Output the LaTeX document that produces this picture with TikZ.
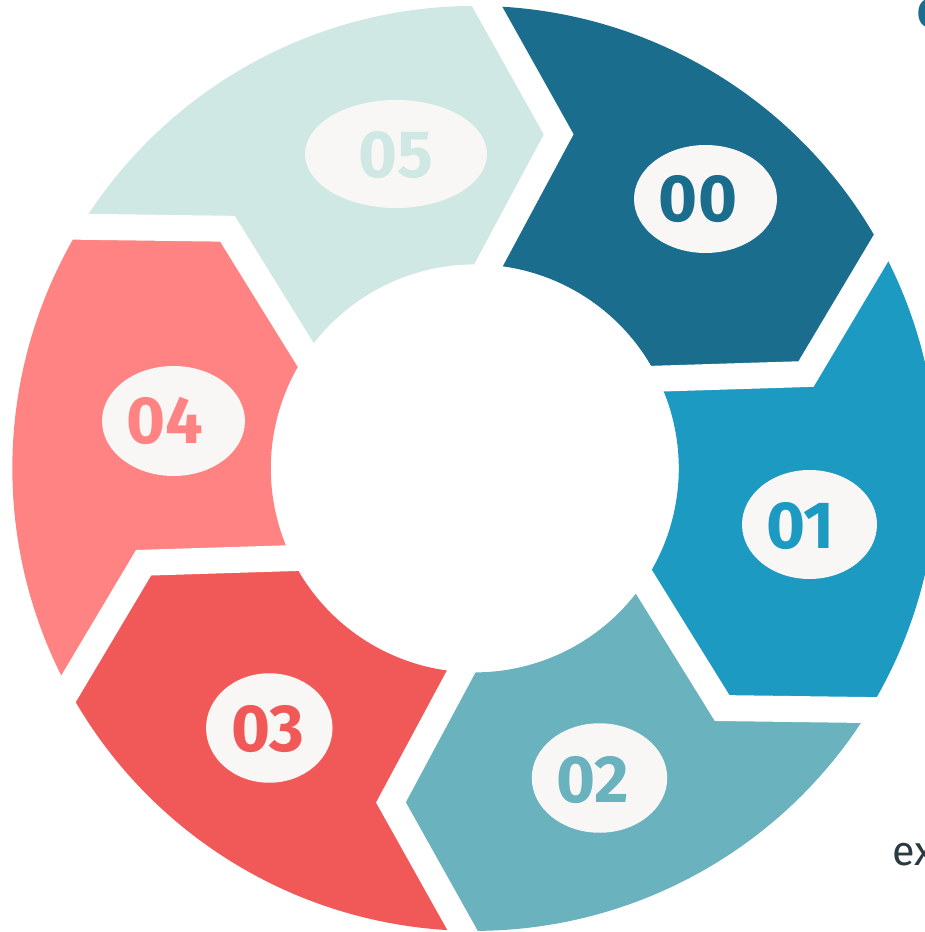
\documentclass[tikz,border=0pt]{standalone}
\usepackage{fontspec}
\setmainfont{Fira Sans}
\usetikzlibrary{shapes.geometric,calc}

\definecolor{c00}{HTML}{1B6D8E}
\definecolor{c01}{HTML}{1C9AC1}
\definecolor{c02}{HTML}{6BB2BF}
\definecolor{c03}{HTML}{F15959}
\definecolor{c04}{HTML}{FF8383}
\definecolor{c05}{HTML}{CFE8E3}
\definecolor{bubblefill}{HTML}{F9F7F5}
\definecolor{slate}{HTML}{2B3A42}

\tikzset{
  bubble/.style={ellipse, fill=bubblefill, inner sep=0pt},
  num/.style={font=\bfseries\fontsize{38}{40}\selectfont, inner sep=0pt},
  gapline/.style={draw=white, line width=0.52cm, line join=miter},
}

\begin{document}
\begin{tikzpicture}[x=0.02cm,y=0.02cm]
            \useasboundingbox (-474.8,-463.6) rectangle (450.2,468.4);

            % Segment 00
            \fill[c00] (88.5:462.5) arc[start angle=88.5, end angle=28.5, radius=462.5]
              -- (15.9:344.4) -- (26.1:204) arc[start angle=26.1, end angle=86.1, radius=204]
              -- (75.9:344.4) -- cycle;

            % Segment 01
            \fill[c01] (28.5:462.5) arc[start angle=28.5, end angle=-31.5, radius=462.5]
              -- (-44.1:344.4) -- (-33.9:204) arc[start angle=-33.9, end angle=26.1, radius=204]
              -- (15.9:344.4) -- cycle;

            % Segment 02
            \fill[c02] (-31.5:462.5) arc[start angle=-31.5, end angle=-91.5, radius=462.5]
              -- (-104.1:344.4) -- (-93.9:204) arc[start angle=-93.9, end angle=-33.9, radius=204]
              -- (-44.1:344.4) -- cycle;

            % Segment 03
            \fill[c03] (-91.5:462.5) arc[start angle=-91.5, end angle=-151.5, radius=462.5]
              -- (-164.1:344.4) -- (-153.9:204) arc[start angle=-153.9, end angle=-93.9, radius=204]
              -- (-104.1:344.4) -- cycle;

            % Segment 04
            \fill[c04] (-151.5:462.5) arc[start angle=-151.5, end angle=-211.5, radius=462.5]
              -- (-224.1:344.4) -- (-213.9:204) arc[start angle=-213.9, end angle=-153.9, radius=204]
              -- (-164.1:344.4) -- cycle;

            % Segment 05
            \fill[c05] (148.5:462.5) arc[start angle=148.5, end angle=88.5, radius=462.5]
              -- (75.9:344.4) -- (86.1:204) arc[start angle=86.1, end angle=146.1, radius=204]
              -- (135.9:344.4) -- cycle;

            % White gaps between the segments
            \draw[gapline] ($(75.9:344.4)!1.3!(88.5:462.5)$) -- (75.9:344.4) -- ($(75.9:344.4)!1.3!(86.1:204)$);
            \draw[gapline] ($(15.9:344.4)!1.3!(28.5:462.5)$) -- (15.9:344.4) -- ($(15.9:344.4)!1.3!(26.1:204)$);
            \draw[gapline] ($(-44.1:344.4)!1.3!(-31.5:462.5)$) -- (-44.1:344.4) -- ($(-44.1:344.4)!1.3!(-33.9:204)$);
            \draw[gapline] ($(-104.1:344.4)!1.3!(-91.5:462.5)$) -- (-104.1:344.4) -- ($(-104.1:344.4)!1.3!(-93.9:204)$);
            \draw[gapline] ($(-164.1:344.4)!1.3!(-151.5:462.5)$) -- (-164.1:344.4) -- ($(-164.1:344.4)!1.3!(-153.9:204)$);
            \draw[gapline] ($(135.9:344.4)!1.3!(148.5:462.5)$) -- (135.9:344.4) -- ($(135.9:344.4)!1.3!(146.1:204)$);

            % Bubbles
            \node[bubble, minimum width=2.86cm, minimum height=2.16cm] (e00) at (230.7,269.4) {};
            \node[bubble, minimum width=2.70cm, minimum height=2.18cm] (e01) at (334.7,-56.1) {};
            \node[bubble, minimum width=2.71cm, minimum height=2.19cm] (e02) at (124.7,-309.6) {};
            \node[bubble, minimum width=2.53cm, minimum height=2.19cm] (e03) at (-205.5,-259.6) {};
            \node[bubble, minimum width=2.86cm, minimum height=2.20cm] (e04) at (-301.3,47.4) {};
            \node[bubble, minimum width=3.64cm, minimum height=2.16cm] (e05) at (-78.8,314.4) {};

            % Numbers
            \node[num, text=c00] (t00) at (223.2,269.2) {00};
            \node[num, text=c01] (t01) at (325.5,-57.4) {01};
            \node[num, text=c02] (t02) at (118.2,-311.6) {02};
            \node[num, text=c03] (t03) at (-206.8,-260.6) {03};
            \node[num, text=c04] (t04) at (-310.1,47.4) {04};
            \node[num, text=c05] (t05) at (-78.8,313.4) {05};

            % Cut-off texts at the right edge
            \node[anchor=base west, inner sep=0pt, text=c00, font=\bfseries\fontsize{23}{25}\selectfont] (title) at (442.5,441) {O};
            \node[anchor=base west, inner sep=0pt, text=slate, font=\fontsize{23.5}{26}\selectfont] (side) at (417.2,-396.6) {ex};
        \end{tikzpicture}
\end{document}
